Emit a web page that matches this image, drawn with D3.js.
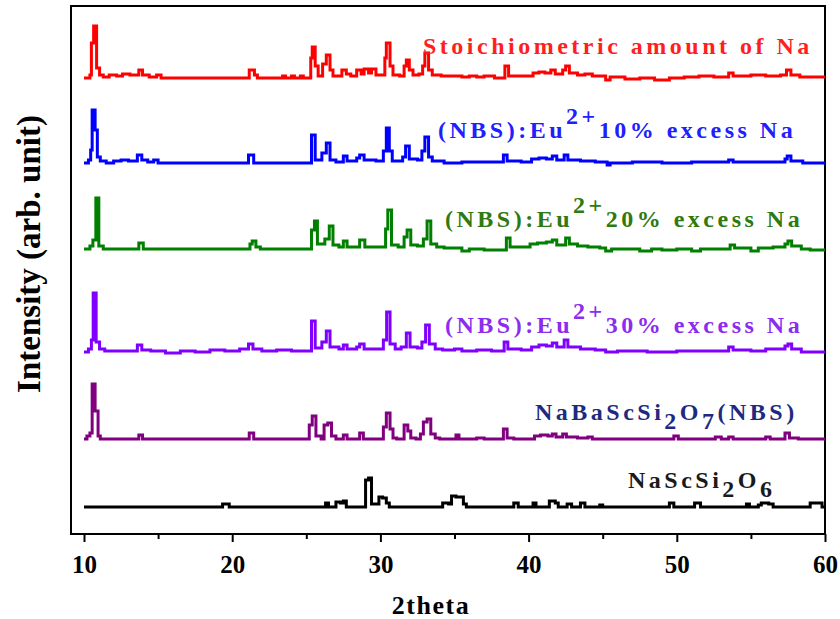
<!DOCTYPE html>
<html>
<head>
<meta charset="utf-8">
<script src="https://cdn.jsdelivr.net/npm/d3@7"></script>
<style>
  body { margin: 0; background: #fff; }
  text { font-family: "Liberation Serif", "Times New Roman", serif; font-weight: bold; }
</style>
</head>
<body>
<div id="chart-area"></div>
<script>
// XRD patterns: [2theta, intensity above own baseline]
var stoich = [[10,0],[10.4,3],[10.5,35],[10.65,52],[10.85,10],[11.05,3],[11.3,1],[11.7,3],[12.2,2],[12.6,4],[13.1,3],[13.7,8],[13.95,3],[14.4,1],[14.9,3],[15.2,0],
  [21.15,8],[21.5,3],[21.7,0],[23.4,2],[23.6,0],[24.0,2],[24.2,0],[24.6,2],[24.8,0],
  [25.3,20],[25.4,31],[25.6,12],[25.8,2],[26.1,14],[26.35,23],[26.6,8],[26.8,2],[27.4,8],[27.7,4],[28.0,2],[28.4,8],[28.7,4],[28.9,9],[29.2,5],[29.4,9],[29.7,3],
  [30.1,3],[30.3,20],[30.4,35],[30.65,12],[30.85,3],[31.3,2],[31.6,12],[31.75,18],[31.95,8],[32.2,3],[32.6,4],[32.85,12],[33.0,25],[33.25,8],[33.5,3],[34.1,2],
  [34.5,2],[35.0,2],[35.5,1],[36.0,2],[36.5,1],[37.0,2],[37.7,0],[38.4,12],[38.65,2],[39.5,2],[40.3,5],[40.7,6],[41.1,5],[41.5,8],[41.8,4],[42.3,8],[42.5,12],
  [42.75,5],[43.3,3],[43.8,4],[44.3,2],[44.8,2],[45.2,-2],[45.5,1],[46.5,-1],[47.5,0],[48.5,-2],[49.5,0],[50.5,1],[51.5,2],[52.5,1],[53.5,5],[53.8,2],[55,3],
  [56,2],[57,3],[57.4,8],[57.7,3],[58.3,1],[59,1],[60,1]];
var excess10 = [[10,0],[10.3,3],[10.45,13],[10.55,53],[10.75,33],[10.9,6],[11.1,2],[11.5,0],[12.0,2],[12.5,3],[13.0,2],[13.6,8],[13.9,3],[14.3,1],[14.7,3],
  [15.0,0],[21.1,8],[21.45,0],[25.35,28],[25.6,3],[26.05,10],[26.35,20],[26.6,3],[27.0,1],[27.5,7],[27.75,2],[28.4,5],[28.6,8],[28.9,3],[29.7,2],[30.2,12],
  [30.4,35],[30.6,12],[30.8,2],[31.5,6],[31.7,17],[31.95,4],[32.5,3],[32.8,12],[33.0,26],[33.25,6],[33.5,2],[34.3,0],[35.5,1],[37.0,1],[38.3,8],[38.55,2],
  [39.5,1],[40.2,4],[40.7,5],[41.2,4],[41.6,7],[41.9,3],[42.4,8],[42.65,3],[43.5,2],[44.5,1],[45.3,-2],[45.5,0],[47,1],[49,0],[51,1],[53.5,3],[53.8,1],
  [56,1],[57.3,4],[57.45,7],[57.7,2],[58.5,0],[60,0]];
var excess20 = [[10,0],[10.4,3],[10.6,9],[10.8,51],[11.0,3],[11.3,0],[13.7,6],[14.0,0],[21.2,5],[21.35,8],[21.6,2],[21.9,0],[25.35,19],[25.55,28],[25.75,5],
  [26.25,10],[26.55,23],[26.8,4],[27.2,2],[27.5,8],[27.75,2],[28.6,9],[28.95,2],[30.35,20],[30.5,39],[30.75,4],[31.2,2],[31.6,12],[31.8,19],[32.05,4],[32.5,3],
  [32.9,10],[33.15,28],[33.4,5],[33.8,2],[34.3,1],[35,1],[35.5,-2],[36,0],[37,-1],[38.5,11],[38.75,2],[39.5,2],[40.1,5],[40.6,6],[41.2,7],[41.6,9],[41.9,4],
  [42.5,11],[42.75,5],[43.3,3],[44,2],[44.8,1],[45.2,-2],[45.6,0],[47.5,-2],[48.3,0],[49,-1],[50,0],[51,-2],[51.6,0],[53.6,4],[53.9,1],[55,-2],[55.5,1],
  [56.5,2],[57.3,5],[57.5,8],[57.75,3],[58.4,0],[59,-1],[60,-1]];
var excess30 = [[10,0],[10.3,3],[10.5,12],[10.62,59],[10.82,10],[11.05,3],[11.4,1],[13.6,7],[13.9,2],[14.5,1],[15.5,-1],[16.5,1],[17.5,0],[18.5,2],[19.5,1],
  [20.5,3],[21.1,8],[21.4,3],[22,1],[23,2],[24,1],[25.35,31],[25.6,4],[26.05,10],[26.35,21],[26.6,5],[27.2,3],[27.5,7],[27.75,3],[28.4,5],[28.6,8],[28.9,3],
  [29.6,3],[30.2,12],[30.42,40],[30.65,8],[31.0,3],[31.4,5],[31.75,19],[32.0,5],[32.5,4],[32.8,10],[33.05,27],[33.3,8],[33.7,3],[34.2,2],[35,3],[35.5,1],
  [36.5,2],[37.5,1],[38.35,10],[38.6,3],[39.5,2],[40.2,5],[40.7,7],[41.2,6],[41.6,9],[41.9,5],[42.4,12],[42.65,5],[43.5,3],[44.5,2],[45.2,0],[46,1],[48,0],
  [50,1],[52,1],[53.5,5],[53.8,2],[55,1],[56,3],[57.3,6],[57.5,8],[57.75,3],[58.4,0],[60,0]];
var nbs = [[10,0],[10.2,3],[10.4,6],[10.55,55],[10.75,28],[10.95,3],[11.1,0],[13.7,4],[13.95,0],[21.15,6],[21.45,0],[25.2,14],[25.4,23],[25.65,3],[26.0,0],
  [26.2,14],[26.45,16],[26.7,3],[27.0,0],[27.5,4],[27.75,0],[28.6,6],[28.85,0],[30.2,12],[30.4,26],[30.65,10],[30.85,1],[31.1,0],[31.6,14],[31.85,8],[32.05,1],
  [32.4,0],[32.7,5],[32.9,17],[33.15,20],[33.4,5],[33.7,1],[34.0,0],[35.1,4],[35.3,0],[36.5,1],[37,0],[38.3,10],[38.55,1],[39,0],[40.4,3],[40.8,4],[41.3,3],
  [41.6,5],[41.85,2],[42.3,5],[42.55,2],[43.3,1],[44,2],[44.3,0],[47.5,0],[49.8,3],[50.1,0],[52.6,2],[53,0],[53.5,2],[53.8,0],[56,2],[56.3,0],[57.3,6],
  [57.6,1],[58.2,0],[60,0]];
var nass = [[10,0],[19.35,3],[19.8,0],[26.3,4],[26.5,0],[27.0,5],[27.3,4],[27.5,6],[27.7,0],[29.0,27],[29.2,29],[29.4,3],[29.9,10],[30.15,9],[30.4,4],
  [30.6,0],[34.2,4],[34.6,3],[34.8,11],[35.1,10],[35.6,3],[35.8,0],[39.0,4],[39.3,0],[40.3,4],[40.5,0],[41.4,6],[41.8,4],[42.0,0],[42.6,3],[42.9,0],
  [43.5,4],[43.8,0],[44.8,2],[45,0],[49.5,4],[49.8,0],[51.2,4],[51.6,0],[54.7,3],[54.9,0],[55.5,2],[55.7,4],[56.2,3],[56.5,0],[59.0,4],[59.8,0],[60,0]];

var seriesData = [stoich, excess10, excess20, excess30, nbs, nass];
var offsets = [456, 371, 285, 182, 95, 27];   // vertical stacking offsets
var lineColors = ["#ff0000", "#0000ff", "#007f00", "#8000ff", "#800080", "#000000"];
var labelColors = ["#ff1f1f", "#2020ff", "#2e7a10", "#8c2cf0", "#1e2a80", "#1a1a1a"];
// label parts: [text, shift] with shift 1 = superscript, -1 = subscript
var labels = [
  [["Stoichiometric amount of Na", 0]],
  [["(NBS):Eu", 0], ["2+", 1], ["10%  excess Na", 0]],
  [["(NBS):Eu", 0], ["2+", 1], ["20%  excess Na", 0]],
  [["(NBS):Eu", 0], ["2+", 1], ["30%  excess Na", 0]],
  [["NaBaScSi", 0], ["2", -1], ["O", 0], ["7", -1], ["(NBS)", 0]],
  [["NaScSi", 0], ["2", -1], ["O", 0], ["6", -1]]
];
var majorTicks = [10, 20, 30, 40, 50, 60];
var minorTicks = [15, 25, 35, 45, 55];

var width = 840, height = 619;
var svg = d3.select("#chart-area").append("svg")
    .attr("width", width).attr("height", height);

var x = d3.scaleLinear().domain([10, 60]).range([84, 825]);
var y = d3.scaleLinear().domain([0, 528]).range([534, 6]);

// frame
svg.append("rect")
    .attr("x", 71).attr("y", 6).attr("width", 754).attr("height", 528)
    .attr("fill", "none").attr("stroke", "#000").attr("stroke-width", 2);

// x axis: major and minor ticks
var xAxis = svg.append("g").attr("transform", "translate(0,534)")
    .call(d3.axisBottom(x).tickValues(majorTicks).tickSize(8).tickPadding(13).tickFormat(d3.format("d")));
xAxis.select(".domain").remove();
xAxis.selectAll("line").attr("stroke-width", 2);
xAxis.selectAll("text").attr("font-size", "25px").attr("fill", "#000");

var xMinor = svg.append("g").attr("transform", "translate(0,534)")
    .call(d3.axisBottom(x).tickValues(minorTicks).tickSize(5).tickFormat(""));
xMinor.select(".domain").remove();
xMinor.selectAll("line").attr("stroke-width", 2);

svg.append("text")
    .attr("x", 431).attr("y", 614)
    .attr("text-anchor", "middle")
    .attr("font-size", "26px")
    .attr("letter-spacing", "1.5px")
    .text("2theta");

svg.append("text")
    .attr("transform", "translate(40,254) rotate(-90)")
    .attr("text-anchor", "middle")
    .attr("font-size", "33px")
    .text("Intensity (arb. unit)");

// patterns
var line = d3.line().curve(d3.curveStepAfter);
seriesData.forEach(function (data, i) {
    line.x(function (d) { return x(d[0]); })
        .y(function (d) { return y(d[1] + offsets[i]); });
    svg.append("path")
        .datum(data)
        .attr("d", line)
        .attr("fill", "none")
        .attr("stroke", lineColors[i])
        .attr("stroke-width", 3)
        .attr("stroke-linejoin", "miter");
});

// labels
var labelPos = [[423, 54], [438, 138], [445, 227], [445, 333], [535, 420], [628, 488]];
labels.forEach(function (parts, i) {
    var t = svg.append("text")
        .attr("x", labelPos[i][0]).attr("y", labelPos[i][1])
        .attr("font-size", "24px")
        .attr("letter-spacing", "3.5px")
        .attr("fill", labelColors[i]);
    var prev = 0;
    parts.forEach(function (p) {
        var shift = p[1] === 1 ? -14 : (p[1] === -1 ? 9 : 0);
        t.append("tspan").attr("dy", shift - prev).text(p[0]);
        prev = shift;
    });
});
</script>
</body>
</html>
